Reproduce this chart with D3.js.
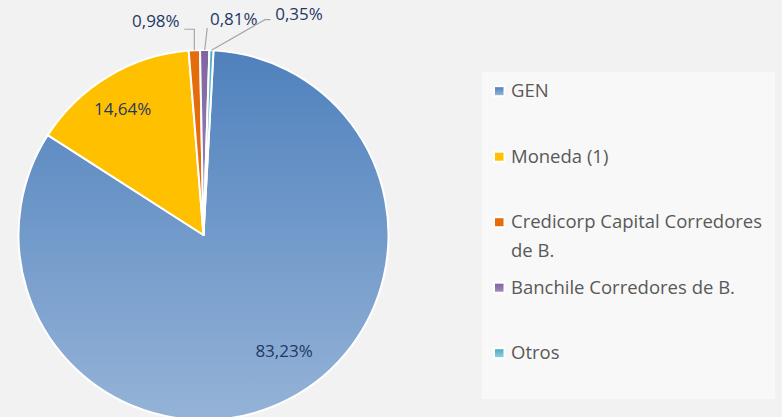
<!DOCTYPE html>
<html><head><meta charset="utf-8">
<script src="https://cdn.jsdelivr.net/npm/d3@7"></script>
<style>body{margin:0;background:#F2F2F2;overflow:hidden}</style>
</head><body><svg id="c" width="782" height="417"></svg>
<script>
// ---- data ----
const categories = ["GEN", "Moneda (1)", "Credicorp Capital Corredores de B.", "Banchile Corredores de B.", "Otros"];
const values = [83.23, 14.64, 0.98, 0.81, 0.35];
const valueLabels = ["83,23%", "14,64%", "0,98%", "0,81%", "0,35%"];
const legendLines = [["GEN"], ["Moneda (1)"], ["Credicorp Capital Corredores", "de B."], ["Banchile Corredores de B."], ["Otros"]];

// ---- styles / layout ----
const colorTop = ["#4F81BD", "#FFC000", "#E46C0A", "#8064A2", "#4BACC6"];
const colorBottom = ["#95B3D7", "#FFC000", "#E46C0A", "#9D8AB9", "#92CDDC"];
const W = 782, H = 417;
const cx = 203.5, cy = 235, R = 185;
const deg = Math.PI / 180;
const firstSliceAngle = 3.1 * deg;
// inside labels: angular shift from slice middle and radius fraction
const insideLayout = {0: {shift: -7.7, r: 0.763}, 1: {shift: -1.7, r: 0.81}};
// outside labels: label-centre offset & leader polyline, relative to slice outer point
const outsideLayout = {
  2: {dx: -38.5, dy: -29, line: [[0, 0], [0, -21], [-10, -21]]},
  3: {dx: 29, dy: -31, line: [[0, 0], [2.5, -22]]},
  4: {dx: 87.5, dy: -36, line: [[0, 0], [53.5, -30.5], [59, -30.5]]}
};

const svg = d3.select("#c");
svg.append("rect").attr("width", W).attr("height", H).attr("fill", "#F2F2F2");

const defs = svg.append("defs");
values.forEach((v, i) => {
  const g = defs.append("linearGradient").attr("id", "g" + i)
    .attr("x1", 0).attr("y1", 0).attr("x2", 0).attr("y2", 1);
  g.append("stop").attr("offset", "0%").attr("stop-color", colorTop[i]);
  g.append("stop").attr("offset", "100%").attr("stop-color", colorBottom[i]);
});

const pie = d3.pie().sort(null).value(d => d)
  .startAngle(firstSliceAngle).endAngle(firstSliceAngle + 2 * Math.PI);
const arcs = pie(values);
const arc = d3.arc().innerRadius(0).outerRadius(R);

const gPie = svg.append("g").attr("transform", `translate(${cx},${cy})`);
gPie.selectAll("path.slice").data(arcs).enter().append("path")
  .attr("class", "slice")
  .attr("d", arc)
  .attr("fill", (d, i) => `url(#g${i})`)
  .attr("stroke", "#FFFFFF").attr("stroke-width", 2).attr("stroke-linejoin", "round");

const labelColor = "#1F3864";
const labelFont = "'Open Sans', 'Noto Sans', sans-serif";

arcs.forEach((d, i) => {
  const mid = (d.startAngle + d.endAngle) / 2;
  if (insideLayout[i]) {
    const L = insideLayout[i];
    const a = mid + L.shift * deg;
    const r = L.r * R;
    gPie.append("text")
      .attr("x", Math.sin(a) * r).attr("y", -Math.cos(a) * r)
      .attr("dy", "0.35em").attr("text-anchor", "middle")
      .attr("font-family", labelFont).attr("font-size", 17)
      .attr("fill", labelColor).text(valueLabels[i]);
  } else if (outsideLayout[i]) {
    const L = outsideLayout[i];
    const px = Math.sin(mid) * R, py = -Math.cos(mid) * R;
    const pts = L.line.map(p => [px + p[0], py + p[1]]);
    gPie.append("path")
      .attr("d", d3.line()(pts))
      .attr("fill", "none").attr("stroke", "#A6A6A6").attr("stroke-width", 1.2);
    gPie.append("text")
      .attr("x", px + L.dx).attr("y", py + L.dy)
      .attr("dy", "0.35em").attr("text-anchor", "middle")
      .attr("font-family", labelFont).attr("font-size", 17)
      .attr("fill", labelColor).text(valueLabels[i]);
  }
});

// ---- legend ----
svg.append("rect").attr("x", 482).attr("y", 72).attr("width", 293).attr("height", 327)
  .attr("fill", "#F8F8F8");
const ly = d3.scalePoint().domain(categories).range([90.7, 352.7]);
const lg = svg.append("g");
categories.forEach((c, i) => {
  const y = ly(c);
  lg.append("rect").attr("x", 493).attr("y", y - 5.5).attr("width", 12).attr("height", 12)
    .attr("fill", "#FFFFFF");
  lg.append("rect").attr("x", 495).attr("y", y - 3.5).attr("width", 8.5).attr("height", 8)
    .attr("fill", `url(#g${i})`);
  const t = lg.append("text").attr("x", 511).attr("y", y).attr("dy", "0.35em")
    .attr("font-family", labelFont).attr("font-size", 18.5).attr("fill", "#595959");
  legendLines[i].forEach((line, k) => {
    t.append("tspan").attr("x", 511).attr("dy", k === 0 ? "0.35em" : 28.5).text(line);
  });
  t.attr("dy", null);
});
</script></body></html>
